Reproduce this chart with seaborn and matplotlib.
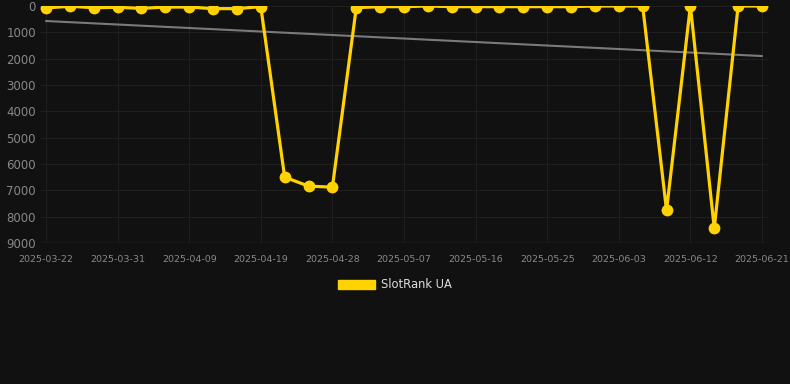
import matplotlib
matplotlib.use("Agg")
import matplotlib.pyplot as plt
import seaborn as sns
import pandas as pd
import numpy as np
from matplotlib.patches import Patch

# ---- data ----
dates = pd.date_range("2025-03-22", periods=31, freq="3D")
rank = [75, 10, 65, 50, 90, 40, 40, 100, 100, 25,
        6500, 6840, 6880, 65, 25, 25, 0, 25, 25, 25,
        25, 25, 25, 0, 0, 0, 7760, 0, 8440, 0, 0]
trend_dates = [pd.Timestamp("2025-03-22"), pd.Timestamp("2025-06-20")]
trend_values = [570, 1900]
tick_dates = pd.date_range("2025-03-22", periods=11, freq="9D")
tick_labels = ["2025-03-22", "2025-03-31", "2025-04-09", "2025-04-19", "2025-04-28",
               "2025-05-07", "2025-05-16", "2025-05-25", "2025-06-03", "2025-06-12",
               "2025-06-21"]
y_ticks = [0, 1000, 2000, 3000, 4000, 5000, 6000, 7000, 8000, 9000]
series_name = "SlotRank UA"

BG = "#111111"
YELLOW = "#FFD200"
GRID = "#1f1f1f"
TXT = "#888888"

sns.set_theme(style="dark")
plt.rcParams["font.family"] = ["DejaVu Sans"]

fig = plt.figure(figsize=(7.9, 3.84), dpi=100, facecolor=BG)
W, H = 790, 384
ax = fig.add_axes([40 / W, 1 - 243 / H, (768 - 40) / W, (243 - 6) / H])
ax.set_facecolor(BG)

df = pd.DataFrame({"date": dates, "rank": rank})
tdf = pd.DataFrame({"date": trend_dates, "rank": trend_values})

sns.lineplot(data=tdf, x="date", y="rank", ax=ax, color="#7a7a7a", linewidth=1.5, zorder=2)
sns.lineplot(data=df, x="date", y="rank", ax=ax, color=YELLOW, linewidth=2.3,
             marker="o", markersize=8.5, markeredgewidth=0, zorder=3, label=series_name)

d0 = pd.Timestamp("2025-03-22")
d1 = pd.Timestamp("2025-06-20")
pad = pd.Timedelta(days=6 / (716 / 90))
ax.set_xlim(d0 - pad, d1 + pad)
ax.set_ylim(9000, 0)

ax.set_xticks(tick_dates)
ax.set_xticklabels(tick_labels)
ax.set_yticks(y_ticks)
ax.set_yticklabels([str(v) for v in y_ticks])
ax.tick_params(axis="x", colors=TXT, labelsize=6.8, length=4, color=GRID, pad=5)
ax.tick_params(axis="y", colors=TXT, labelsize=8.5, length=0, pad=3)
ax.grid(True, color=GRID, linewidth=0.8)
ax.set_xlabel("")
ax.set_ylabel("")
for s in ax.spines.values():
    s.set_visible(False)
ax.axhline(9000, color="#333333", linewidth=1, zorder=1)

ax.legend_.remove()
fig.legend(handles=[Patch(facecolor=YELLOW, edgecolor=YELLOW)], labels=[series_name],
           loc="center", bbox_to_anchor=(0.5, 1 - 285 / H), frameon=False,
           handlelength=3.2, handleheight=0.9, handletextpad=0.5,
           fontsize=8.3, labelcolor="#dddddd")

fig.savefig("out.png", dpi=100, facecolor=BG)
